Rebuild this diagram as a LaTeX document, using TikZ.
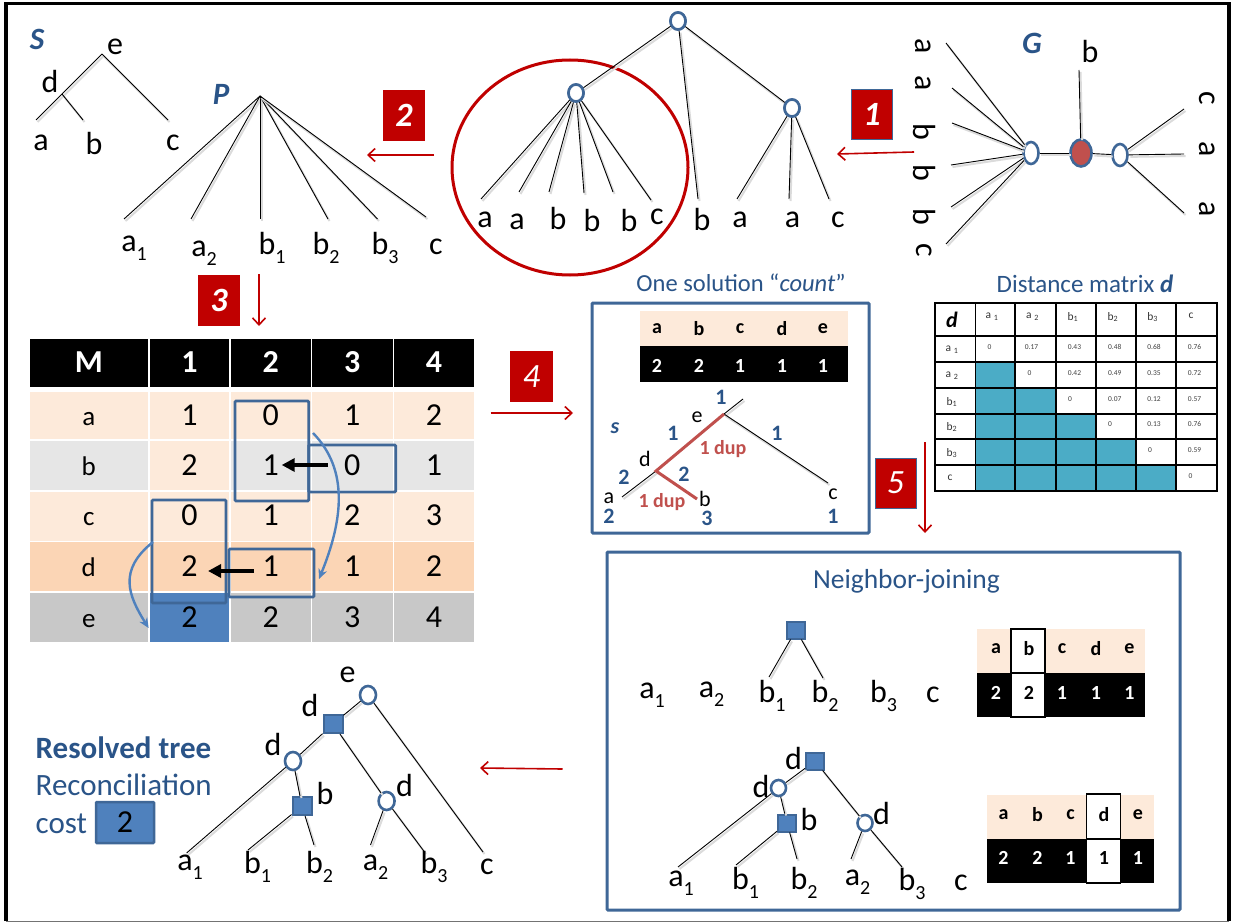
\documentclass[tikz,border=0pt]{standalone}
\usepackage{fontspec}
\setmainfont{Carlito}
\usetikzlibrary{arrows.meta,shapes.geometric}
\definecolor{navy}{RGB}{63,103,151}
\definecolor{txtblue}{RGB}{42,84,136}
\definecolor{dupred}{RGB}{192,80,77}
\definecolor{darkred}{RGB}{192,0,0}
\definecolor{sqblue}{RGB}{79,129,189}
\definecolor{peach}{RGB}{253,234,218}
\definecolor{peachd}{RGB}{251,213,181}
\definecolor{grayl}{RGB}{230,230,230}
\definecolor{graym}{RGB}{200,200,200}
\definecolor{teal1}{RGB}{75,172,198}
\newcommand\lsub[1]{\raisebox{-.28em}{\fontsize{20}{20}\selectfont #1}}
\newcommand\mrow[9]{%
  \node[mcell,fill=#3,minimum width=118.5pt,minimum height=#2pt,font=\fontsize{27}{29}\selectfont] (m-#5-0) at (88.8,#1) {#5};
  \node[mcell,fill=#4,minimum width=79pt,minimum height=#2pt] (m-#5-1) at (189.5,#1) {#6};
  \node[mcell,fill=#3,minimum width=79.5pt,minimum height=#2pt] (m-#5-2) at (270.8,#1) {#7};
  \node[mcell,fill=#3,minimum width=80.5pt,minimum height=#2pt] (m-#5-3) at (352.3,#1) {#8};
  \node[mcell,fill=#3,minimum width=80pt,minimum height=#2pt] (m-#5-4) at (434,#1) {#9};}
\tikzset{
  lbl/.style={font=\fontsize{32}{34}\selectfont,inner sep=0pt,text=black},
  slbl/.style={font=\fontsize{22}{24}\selectfont,inner sep=0pt,text=black},
  bnum/.style={font=\bfseries\fontsize{22}{24}\selectfont,inner sep=0pt,text=txtblue},
  dupl/.style={font=\bfseries\fontsize{20}{22}\selectfont,inner sep=0pt,text=dupred},
  ttl/.style={font=\fontsize{25}{27}\selectfont,inner sep=0pt,text=txtblue},
  treename/.style={font=\bfseries\itshape\fontsize{31}{32}\selectfont,inner sep=0pt,text=txtblue},
  tl/.style={draw=black,line width=0.9pt,preaction={draw=black!14,line width=2pt,transform canvas={xshift=1.5pt,yshift=-2pt}}},
  circ/.style={ellipse,draw=navy,fill=white,line width=2.6pt,inner sep=0pt,minimum width=15pt,minimum height=17pt},
  squ/.style={rectangle,draw=navy,fill=sqblue,line width=2pt,inner sep=0pt,minimum width=18pt,minimum height=17pt},
  redbox/.style={rectangle,fill=darkred,inner sep=0pt,text=white,font=\bfseries\itshape\fontsize{34}{35}\selectfont,minimum width=42pt,minimum height=51pt},
  redarr/.style={draw=darkred,line width=1.6pt,-{Straight Barb[length=7pt,width=13pt,line width=1.6pt]}},
  frame/.style={rectangle,draw=navy,line width=3pt,rounded corners=1pt,fill=none,inner sep=0pt},
  mcell/.style={rectangle,inner sep=0pt,font=\fontsize{32}{34}\selectfont,text=black,text height=19pt,text depth=0pt},
  hcell/.style={rectangle,fill=black,inner sep=0pt,font=\bfseries\fontsize{32}{34}\selectfont,text=white,minimum height=48pt,text height=19pt,text depth=0pt},
  hl/.style={rectangle,draw=navy,line width=2.8pt,rounded corners=1pt,inner sep=0pt},
  blarr/.style={draw=black,line width=3.5pt,-{Triangle[length=13pt,width=13pt]}},
  bcurve/.style={draw=sqblue,line width=2.4pt,-{Stealth[length=10pt,width=9pt]}},
  dcell/.style={rectangle,draw=black,line width=1.5pt,inner sep=0pt},
  dval/.style={font=\fontsize{7.5}{8}\selectfont,inner sep=0pt,text=black!75},
  dhead/.style={font=\fontsize{11.5}{12}\selectfont,inner sep=0pt,text=black!80},
  tletter/.style={font=\bfseries\fontsize{20}{21}\selectfont,inner sep=0pt,text=black},
  tdigit/.style={font=\bfseries\fontsize{20}{21}\selectfont,inner sep=0pt,text=white},
}
\begin{document}
\begin{tikzpicture}[x=1pt,y=-1pt]
\useasboundingbox (0,0) rectangle (1233,923);
\fill[white] (0,0) rectangle (1233,923);
% outer frame
\draw[black!55,line width=1.5pt] (6,921.5) -- (1229,921.5);
\draw[black,line width=3.2pt] (6,921) -- (6,3.5) -- (1229,3.5) -- (1229,921);

% --- species tree S
\node[treename] (nameS) at (37,39) {S};
\coordinate (s-e) at (102,54);
\coordinate (s-d) at (62,94);
\coordinate (s-ea) at (36,120);
\coordinate (s-eb) at (83,120);
\coordinate (s-ec) at (168,120);
\draw[tl] (s-e) -- (s-d) -- (s-ea);
\draw[tl] (s-d) -- (s-eb);
\draw[tl] (s-e) -- (s-ec);
\node[lbl] (s-le) at (115,47) {e};
\node[lbl] (s-ld) at (50,82) {d};
\node[lbl] (s-la) at (41,143) {a};
\node[lbl] (s-lb) at (94,143) {b};
\node[lbl] (s-lc) at (173,143) {c};

% --- polytomy P
\node[treename] (nameP) at (221,94) {P};
\coordinate (p-r) at (260,96);
\coordinate (p-e1) at (124,219);
\coordinate (p-e2) at (191,219);
\coordinate (p-e3) at (260,219);
\coordinate (p-e4) at (328,219);
\coordinate (p-e5) at (377.5,219);
\coordinate (p-e6) at (426,217);
\foreach \e in {1,...,6} {\draw[tl] (p-r) -- (p-e\e);}
\node[lbl] (p-a1) at (134,248) {a\lsub{1}};
\node[lbl] (p-a2) at (204,253) {a\lsub{2}};
\node[lbl] (p-b1) at (272,248) {b\lsub{1}};
\node[lbl] (p-b2) at (326,248) {b\lsub{2}};
\node[lbl] (p-b3) at (385,248) {b\lsub{3}};
\node[lbl] (p-c) at (436,247) {c};

% --- step boxes
\node[redbox] (box2) at (404,115.5) {2};
\coordinate (a2s) at (434,155); \coordinate (a2e) at (367,155);
\draw[redarr] (a2s) -- (a2e);
\node[redbox] (box3) at (219,300.5) {3};
\coordinate (a3s) at (259,274); \coordinate (a3e) at (259,326);
\draw[redarr] (a3s) -- (a3e);
\node[redbox,draw=navy,line width=1pt,minimum width=41pt,minimum height=50pt] (box1) at (872,114.5) {1};
\coordinate (a1s) at (914,152); \coordinate (a1e) at (837,154);
\draw[redarr] (a1s) -- (a1e);

% --- big tree with circle
\draw[darkred,line width=3pt] (570,167.5) ellipse [x radius=118pt,y radius=107.5pt];
\node[circ] (t-root) at (678,21) {};
\node[circ] (t-l) at (576,93) {};
\node[circ] (t-r) at (792,108) {};
\foreach \n/\x/\y in {e1/481/199,e2/519/192,e3/549/192,e4/584/193,e5/613/192,e6/651/200,e7/698/199,e8/737/199,e9/789/199,e10/829/199} {\coordinate (t-\n) at (\x,\y);}
\foreach \e in {1,...,6} {\draw[tl] (t-l) -- (t-e\e);}
\draw[tl] (t-root) -- (t-l);
\draw[tl] (t-root) -- (t-e7);
\draw[tl] (t-root) -- (t-r);
\foreach \e in {8,9,10} {\draw[tl] (t-r) -- (t-e\e);}
\node[circ] at (t-root) {};
\node[circ] at (t-l) {};
\node[circ] at (t-r) {};
\node[lbl] (tl1) at (485,220) {a};
\node[lbl] (tl2) at (517,222) {a};
\node[lbl] (tl3) at (558,218) {b};
\node[lbl] (tl4) at (592,220) {b};
\node[lbl] (tl5) at (629,220) {b};
\node[lbl] (tl6) at (657,217) {c};
\node[lbl] (tl7) at (702,219) {b};
\node[lbl] (tl8) at (740,220) {a};
\node[lbl] (tl9) at (792.5,220) {a};
\node[lbl] (tl10) at (838,220) {c};

% --- gene tree G
\node[treename] (nameG) at (1032,43) {G};
\node[circ,minimum width=15pt,minimum height=22pt] (g-l) at (1031,153) {};
\node[circ,fill=dupred,minimum width=21pt,minimum height=27pt] (g-m) at (1081,153) {};
\node[circ,minimum width=15pt,minimum height=22pt] (g-r) at (1120,155) {};
\foreach \n/\x/\y in {1/946/43,2/952/88,3/952/123,4/951/165,5/951/207,6/946/244,7/1079/70,8/1184/109,9/1184/154,10/1184/213} {\coordinate (g-e\n) at (\x,\y);}
\foreach \e in {1,...,6} {\draw[tl] (g-l) -- (g-e\e);}
\draw[tl] (g-m) -- (g-e7);
\draw[tl] (g-l) -- (g-m);
\draw[tl] (g-m) -- (g-r);
\foreach \e in {8,9,10} {\draw[tl] (g-r) -- (g-e\e);}
\node[lbl,rotate=-90] (gl1) at (923,46) {a};
\node[lbl,rotate=-90] (gl2) at (923,83) {a};
\node[lbl,rotate=-90] (gl3) at (924,132) {b};
\node[lbl,rotate=-90] (gl4) at (924,173) {b};
\node[lbl,rotate=-90] (gl5) at (924,217) {b};
\node[lbl,rotate=-90] (gl6) at (924,250) {c};
\node[lbl,rotate=-90] (gl7) at (1207,98) {c};
\node[lbl,rotate=-90] (gl8) at (1207,149) {a};
\node[lbl,rotate=-90] (gl9) at (1207,209) {a};
\node[lbl] (gl10) at (1090,52) {b};

% --- matrix M
\node[hcell,minimum width=118.5pt] (h0) at (88.8,363) {M};
\node[hcell,minimum width=79pt] (h1) at (189.5,363) {1};
\node[hcell,minimum width=79.5pt] (h2) at (270.8,363) {2};
\node[hcell,minimum width=80.5pt] (h3) at (352.3,363) {3};
\node[hcell,minimum width=80pt] (h4) at (434,363) {4};
\mrow{415.5}{47}{peach}{peach}{a}{1}{0}{1}{2}
\mrow{465.5}{49}{grayl}{peach}{b}{2}{1}{0}{1}
\mrow{516}{49}{peach}{peach}{c}{0}{1}{2}{3}
\mrow{566.5}{49}{peachd}{peachd}{d}{2}{1}{1}{2}
\mrow{617.5}{49}{graym}{sqblue}{e}{2}{2}{3}{4}
\node[hl,minimum width=73.7pt,minimum height=100pt] (hl1) at (271.85,451) {};
\node[hl,minimum width=87pt,minimum height=47pt] (hl2) at (352.2,468.5) {};
\node[hl,minimum width=74pt,minimum height=103pt] (hl3) at (189,551.5) {};
\node[hl,minimum width=85pt,minimum height=48pt] (hl4) at (271.5,573) {};
\coordinate (ba1) at (328,465); \coordinate (ba2) at (281.7,465);
\coordinate (ba3) at (254,571); \coordinate (ba4) at (208,571);
\draw[blarr] (ba1) -- (ba2);
\draw[blarr] (ba3) -- (ba4);
\coordinate (cv1s) at (313,433); \coordinate (cv1e) at (319,579);
\coordinate (cv2s) at (153,542); \coordinate (cv2e) at (148.6,628);
\draw[bcurve] (cv1s) .. controls (349,470) and (343,520) .. (cv1e);
\draw[bcurve] (cv2s) .. controls (118,570) and (128,595) .. (cv2e);

% --- step 4
\node[redbox,font=\itshape\fontsize{34}{35}\selectfont,minimum width=43pt] (box4) at (531.5,376.5) {4};
\coordinate (a4s) at (490.6,413); \coordinate (a4e) at (573,413);
\draw[redarr] (a4s) -- (a4e);

% --- one solution
\node[ttl,font=\fontsize{24.5}{26}\selectfont] (ttlcount) at (741,283) {One solution “\textit{count}”};
\node[frame,minimum width=277pt,minimum height=230pt] (frcount) at (730.5,418) {};
\node[rectangle,fill=peach,inner sep=0pt,minimum width=208pt,minimum height=35pt] (c-top) at (744,328.5) {};
\node[rectangle,fill=black,inner sep=0pt,minimum width=208pt,minimum height=36pt] (c-bot) at (744,364) {};
\foreach \n/\x/\a/\b in {1/657/a/2,2/699/b/2,3/740/c/1,4/782/d/1,5/823/e/1} {
  \node[tletter] (c-l\n) at (\x,329) {\a};
  \node[tdigit] (c-d\n) at (\x,366) {\b};
}
\coordinate (ct-r) at (743,399);
\coordinate (ct-e) at (724,414);
\coordinate (ct-d) at (656,471);
\coordinate (ct-a) at (622,497);
\coordinate (ct-b) at (697,499);
\coordinate (ct-c) at (828,483);
\draw[tl] (ct-r) -- (ct-e);
\draw[tl] (ct-d) -- (ct-a);
\draw[tl] (ct-e) -- (ct-c);
\draw[dupred,line width=3pt] (ct-e) -- (ct-d) -- (ct-b);
\node[treename,font=\bfseries\itshape\fontsize{22}{24}\selectfont] (names2) at (615,428) {s};
\node[bnum] (cn1) at (721,397) {1};
\node[slbl] (cl-e) at (697,417) {e};
\node[bnum] (cn2) at (673,433) {1};
\node[bnum] (cn3) at (777,433) {1};
\node[dupl] (dup1) at (723,449) {1 dup};
\node[slbl] (cl-d) at (645,459) {d};
\node[bnum] (cn4) at (624,477) {2};
\node[bnum] (cn5) at (684,474) {2};
\node[slbl] (cl-a) at (609,498) {a};
\node[slbl] (cl-b) at (705,499) {b};
\node[dupl] (dup2) at (662,502) {1 dup};
\node[bnum] (cn6) at (609,516) {2};
\node[bnum] (cn7) at (707,518) {3};
\node[slbl] (cl-c) at (833,494) {c};
\node[bnum] (cn8) at (833,516) {1};

% --- step 5
\node[redbox,draw=navy,line width=1pt,font=\itshape\fontsize{34}{35}\selectfont,minimum width=41pt,minimum height=50pt] (box5) at (895.5,483) {5};
\coordinate (a5s) at (925,442); \coordinate (a5e) at (925,533);
\draw[redarr] (a5s) -- (a5e);

% --- distance matrix
\node[ttl] (ttldist) at (1085,284) {Distance matrix \textbf{\textit{d}}};
\foreach \r/\yy/\hh in {0/319.5/33,1/349/26,2/375/26,3/401/26,4/426.5/25,5/452/26,6/478/26} {
  \foreach \c/\xx/\ww in {0/955.2/40.4,1/995.2/39.6,2/1035.5/41,3/1076/40,4/1116/40,5/1156/40,6/1196.5/41} {
    \ifnum\c>0 \ifnum\c<\r
      \node[dcell,fill=teal1,minimum width=\ww pt,minimum height=\hh pt] (d-\r-\c) at (\xx,\yy) {};
    \else
      \node[dcell,minimum width=\ww pt,minimum height=\hh pt] (d-\r-\c) at (\xx,\yy) {};
    \fi \else
      \node[dcell,minimum width=\ww pt,minimum height=\hh pt] (d-\r-\c) at (\xx,\yy) {};
    \fi
  }
}
\node[font=\bfseries\itshape\fontsize{22}{23}\selectfont,inner sep=0pt] (dd) at (952,320) {d};
\node[dhead] (dh1) at (992,317) {a \textsubscript{1}};
\node[dhead] (dh2) at (1032.5,317) {a \textsubscript{2}};
\node[dhead] (dh3) at (1073,317) {b\textsubscript{1}};
\node[dhead] (dh4) at (1113,317) {b\textsubscript{2}};
\node[dhead] (dh5) at (1152.6,317) {b\textsubscript{3}};
\node[dhead] (dh6) at (1191,316) {c};
\node[dhead] (dr1) at (952,350) {a \textsubscript{1}};
\node[dhead] (dr2) at (952,376) {a \textsubscript{2}};
\node[dhead] (dr3) at (952,402) {b\textsubscript{1}};
\node[dhead] (dr4) at (952,427) {b\textsubscript{2}};
\node[dhead] (dr5) at (952,453) {b\textsubscript{3}};
\node[dhead] (dr6) at (950,478) {c};
\foreach \n/\x/\y/\t in {1/989.5/346.7/0,2/1031.5/346.7/0.17,3/1074.4/346.7/0.43,4/1114.7/346.7/0.48,5/1154/346.7/0.68,6/1194.6/346.7/0.76,
  7/1029.5/372.7/0,8/1074.4/372.7/0.42,9/1114.7/372.7/0.49,10/1154/372.7/0.35,11/1194.6/372.7/0.72,
  12/1070/398.7/0,13/1114.7/398.7/0.07,14/1154/398.7/0.12,15/1194.6/398.7/0.57,
  16/1110/423.7/0,17/1154/423.7/0.13,18/1194.6/423.7/0.76,
  19/1150/449.7/0,20/1194.6/449.7/0.59,
  21/1190.5/475.7/0} {
  \node[dval] (dv\n) at (\x,\y) {\t};
}

% --- neighbor joining
\node[frame,minimum width=573pt,minimum height=358pt] (frnj) at (893.5,731) {};
\node[ttl,font=\fontsize{27.5}{29}\selectfont] (ttlnj) at (906.5,581) {Neighbor-joining};
\node[squ] (n1-s) at (796,630) {};
\coordinate (n1-e1) at (769,677); \coordinate (n1-e2) at (823,678);
\draw[tl] (n1-s) -- (n1-e1);
\draw[tl] (n1-s) -- (n1-e2);
\node[lbl] (n1a1) at (652,695) {a\lsub{1}};
\node[lbl] (n1a2) at (711.5,694) {a\lsub{2}};
\node[lbl] (n1b1) at (772,696) {b\lsub{1}};
\node[lbl] (n1b2) at (825,696) {b\lsub{2}};
\node[lbl] (n1b3) at (883.5,696) {b\lsub{3}};
\node[lbl] (n1c) at (933,695) {c};
% table 1
\node[rectangle,fill=peach,inner sep=0pt,minimum width=168pt,minimum height=44pt] (nt1top) at (1061,651) {};
\node[rectangle,fill=black,inner sep=0pt,minimum width=168pt,minimum height=44pt] (nt1bot) at (1061,695) {};
\node[rectangle,draw=black,fill=white,line width=1.5pt,inner sep=0pt,minimum width=34pt,minimum height=44pt] (nt1b1) at (1028,651) {};
\node[rectangle,draw=black,fill=white,line width=1.5pt,inner sep=0pt,minimum width=34pt,minimum height=44pt] (nt1b2) at (1028,695) {};
\foreach \n/\x/\a/\b in {1/996/a/2,3/1062/c/1,4/1096/d/1,5/1129.5/e/1} {
  \node[tletter] (nt1l\n) at (\x,649) {\a};
  \node[tdigit] (nt1d\n) at (\x,693) {\b};
}
\node[tletter] (nt1l2) at (1029,649) {b};
\node[tdigit,text=black] (nt1d2) at (1029,693) {2};
% tree 2
\node[squ] (n2-d) at (815,761) {};
\node[circ,minimum width=15pt,minimum height=16pt] (n2-c1) at (778.5,788) {};
\node[squ] (n2-b) at (787,823) {};
\node[circ,minimum width=15pt,minimum height=16pt] (n2-c2) at (865,823) {};
\foreach \n/\x/\y in {a1/678/867,b1/736/865,b2/797/859,a2/851/859,b3/902/867} {\coordinate (n2-\n) at (\x,\y);}
\draw[tl] (n2-d) -- (n2-c1);
\draw[tl] (n2-c1) -- (n2-a1);
\draw[tl] (n2-c1) -- (n2-b);
\draw[tl] (n2-b) -- (n2-b1);
\draw[tl] (n2-b) -- (n2-b2);
\draw[tl] (n2-d) -- (n2-c2);
\draw[tl] (n2-c2) -- (n2-a2);
\draw[tl] (n2-c2) -- (n2-b3);
\node[lbl] (n2ld) at (793.5,758) {d};
\node[lbl] (n2ld2) at (761,786) {d};
\node[lbl] (n2lb) at (809,819) {b};
\node[lbl] (n2ld3) at (881.6,813) {d};
\node[lbl] (n2la1) at (681,883) {a\lsub{1}};
\node[lbl] (n2lb1) at (745.6,883) {b\lsub{1}};
\node[lbl] (n2lb2) at (804,883) {b\lsub{2}};
\node[lbl] (n2la2) at (857.5,882) {a\lsub{2}};
\node[lbl] (n2lb3) at (912,884) {b\lsub{3}};
\node[lbl] (n2lc) at (961,883) {c};
% table 2
\node[rectangle,fill=peach,inner sep=0pt,minimum width=167pt,minimum height=44pt] (nt2top) at (1070,817) {};
\node[rectangle,fill=black,inner sep=0pt,minimum width=167pt,minimum height=44pt] (nt2bot) at (1070,861) {};
\node[rectangle,draw=black,fill=white,line width=1.5pt,inner sep=0pt,minimum width=34pt,minimum height=45pt] (nt2b1) at (1103.5,816.5) {};
\node[rectangle,draw=black,fill=white,line width=1.5pt,inner sep=0pt,minimum width=34pt,minimum height=44pt] (nt2b2) at (1103.5,861) {};
\foreach \n/\x/\a/\b in {1/1003.5/a/2,2/1037.5/b/2,3/1070.5/c/1,5/1138/e/1} {
  \node[tletter] (nt2l\n) at (\x,815) {\a};
  \node[tdigit] (nt2d\n) at (\x,858) {\b};
}
\node[tletter] (nt2l4) at (1104,815) {d};
\node[tdigit,text=black] (nt2d4) at (1104,858) {1};

% --- arrow to resolved tree
\coordinate (a6s) at (562.5,769); \coordinate (a6e) at (480,768);
\draw[redarr] (a6s) -- (a6e);

% --- resolved tree
\node[circ,minimum width=16pt,minimum height=18pt] (r-e) at (368,695) {};
\node[squ,minimum width=19pt,minimum height=18pt] (r-d) at (333,724) {};
\node[circ,minimum width=16pt,minimum height=18pt] (r-d1) at (293,761) {};
\node[squ,minimum width=19pt,minimum height=18pt] (r-b) at (302,806) {};
\node[circ,minimum width=16pt,minimum height=18pt] (r-d2) at (386.6,801) {};
\foreach \n/\x/\y in {c/483/852,a1/186.6/853,b1/248/850,b2/314/845,a2/370.5/845,b3/424.5/852} {\coordinate (r-\n) at (\x,\y);}
\draw[tl] (r-e) -- (r-d);
\draw[tl] (r-e) -- (r-c);
\draw[tl] (r-d) -- (r-d1);
\draw[tl] (r-d) -- (r-d2);
\draw[tl] (r-d1) -- (r-a1);
\draw[tl] (r-d1) -- (r-b);
\draw[tl] (r-b) -- (r-b1);
\draw[tl] (r-b) -- (r-b2);
\draw[tl] (r-d2) -- (r-a2);
\draw[tl] (r-d2) -- (r-b3);
\node[lbl] (rl-e) at (347.5,675) {e};
\node[lbl] (rl-d) at (310,705) {d};
\node[lbl] (rl-d1) at (273,744) {d};
\node[lbl] (rl-b) at (325,793) {b};
\node[lbl] (rl-d2) at (404.6,785) {d};
\node[lbl] (rl-a1) at (190,867) {a\lsub{1}};
\node[lbl] (rl-b1) at (257.5,867) {b\lsub{1}};
\node[lbl] (rl-b2) at (319.5,867) {b\lsub{2}};
\node[lbl] (rl-a2) at (375.5,867) {a\lsub{2}};
\node[lbl] (rl-b3) at (434,867) {b\lsub{3}};
\node[lbl] (rl-c) at (487,867) {c};
\node[ttl,anchor=west,font=\bfseries\fontsize{31}{32}\selectfont] (t-res) at (35.5,748) {Resolved tree};
\node[ttl,anchor=west,font=\fontsize{31}{32}\selectfont] (t-rec) at (35.5,785) {Reconciliation};
\node[ttl,anchor=west,font=\fontsize{31}{32}\selectfont] (t-cost) at (35.5,824) {cost};
\node[rectangle,draw=navy,fill=sqblue,line width=2.5pt,inner sep=0pt,rounded corners=1pt,minimum width=58pt,minimum height=41pt,font=\fontsize{32}{34}\selectfont,text=black] (costbox) at (125,822.5) {2};
\end{tikzpicture}
\end{document}
